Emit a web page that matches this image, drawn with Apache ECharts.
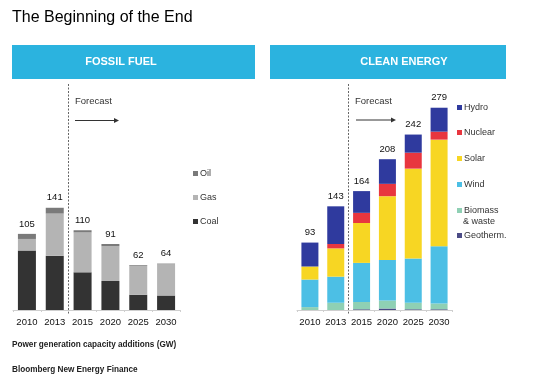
<!DOCTYPE html>
<html><head><meta charset="utf-8">
<script src="https://cdn.jsdelivr.net/npm/echarts@6/dist/echarts.min.js"></script>
<style>html,body{margin:0;padding:0;background:#fff}#c{width:550px;height:389px}</style>
</head><body><div id="c"></div>
<script>
const years = ['2010','2013','2015','2020','2025','2030'];
// Fossil fuel (GW)
const coal = [82, 75, 52, 40, 21, 20];
const gas  = [16, 58, 55, 48, 40, 43];
const oil  = [7, 8, 3, 3, 1, 1];
// Clean energy (GW)
const geotherm = [0, 0, 1, 2, 1, 1];
const biomass  = [4, 10, 10, 11, 9, 8];
const wind     = [38, 36, 54, 56, 61, 79];
const solar    = [18, 39, 55, 88, 124, 147];
const nuclear  = [0, 6, 14, 17, 22, 11];
const hydro    = [33, 52, 30, 34, 25, 33];

const fossilTotals = years.map((_, i) => coal[i] + gas[i] + oil[i]);
const cleanTotals = years.map((_, i) => geotherm[i] + biomass[i] + wind[i] + solar[i] + nuclear[i] + hydro[i]);

const FONT = 'Liberation Sans, Arial, sans-serif';
const chart = echarts.init(document.getElementById('c'));

function xAx(gi) {
  return {
    type: 'category', gridIndex: gi, data: years,
    axisLine: { lineStyle: { color: '#cfcfcf' } },
    axisTick: { show: true, lineStyle: { color: '#cfcfcf' }, length: 2 },
    axisLabel: { interval: 0, color: '#111', fontSize: 9.5, fontFamily: FONT, margin: 7 }
  };
}
function yAx(gi) {
  return { type: 'value', gridIndex: gi, min: 0, max: 300, show: false, splitLine: { show: false } };
}
function bar(name, data, color, gi, width, totals) {
  const s = {
    name, type: 'bar', stack: 's' + gi, data, xAxisIndex: gi, yAxisIndex: gi,
    barWidth: width, itemStyle: { color }, emphasis: { disabled: true }
  };
  if (totals) {
    s.label = {
      show: true, position: 'top', distance: 5, color: '#111', fontSize: 9.5, fontFamily: FONT,
      formatter: p => totals[p.dataIndex]
    };
  }
  return s;
}
function leg(name, top, left, text) {
  return {
    data: [name], top, left, orient: 'vertical', itemWidth: 5, itemHeight: 5, itemGap: 0,
    icon: 'rect', padding: 0,
    textStyle: { color: '#333', fontSize: 9, fontFamily: FONT, padding: [0, 0, 0, -3] },
    formatter: text ? () => text : undefined,
    selectedMode: false
  };
}

const headerColor = '#2bb3df';

chart.setOption({
  animation: false,
  grid: [
    { left: 13, width: 167, top: 92.5, bottom: 79 },
    { left: 297, width: 155, top: 92.5, bottom: 79 }
  ],
  xAxis: [xAx(0), xAx(1)],
  yAxis: [yAx(0), yAx(1)],
  legend: [
    leg('Oil', 169, 193),
    leg('Gas', 193, 193),
    leg('Coal', 217, 193),
    leg('Hydro', 103, 457),
    leg('Nuclear', 128, 457),
    leg('Solar', 154, 457),
    leg('Wind', 180, 457),
    leg('Biomass & waste', 206, 457, 'Biomass'),
    leg('Geotherm.', 231, 457)
  ],
  series: [
    bar('Coal', coal, '#333333', 0, 18),
    bar('Gas', gas, '#b4b4b4', 0, 18),
    bar('Oil', oil, '#7a7a7a', 0, 18, fossilTotals),
    bar('Geotherm.', geotherm, '#4b4b86', 1, 17),
    bar('Biomass & waste', biomass, '#8fd0b4', 1, 17),
    bar('Wind', wind, '#4cbfe5', 1, 17),
    bar('Solar', solar, '#f7d623', 1, 17),
    bar('Nuclear', nuclear, '#e8363f', 1, 17),
    bar('Hydro', hydro, '#2f3a9e', 1, 17, cleanTotals)
  ],
  graphic: [
    { type: 'text', left: 12, top: 10, style: { text: 'The Beginning of the End', fill: '#000', font: '16px ' + FONT } },
    { type: 'rect', shape: { x: 12, y: 45, width: 243, height: 34 }, style: { fill: headerColor } },
    { type: 'rect', shape: { x: 270, y: 45, width: 236, height: 34 }, style: { fill: headerColor } },
    { type: 'text', x: 121, y: 62, style: { text: 'FOSSIL FUEL', fill: '#fff', font: 'bold 11px ' + FONT, align: 'center', verticalAlign: 'middle' } },
    { type: 'text', x: 404, y: 62, style: { text: 'CLEAN ENERGY', fill: '#fff', font: 'bold 11px ' + FONT, align: 'center', verticalAlign: 'middle' } },
    { type: 'line', shape: { x1: 68.5, y1: 84, x2: 68.5, y2: 314 }, style: { stroke: '#666', lineWidth: 1, lineDash: [2, 1.5] } },
    { type: 'line', shape: { x1: 348.5, y1: 84, x2: 348.5, y2: 314 }, style: { stroke: '#666', lineWidth: 1, lineDash: [2, 1.5] } },
    { type: 'text', x: 75, y: 101, style: { text: 'Forecast', fill: '#333', font: '9.5px ' + FONT, verticalAlign: 'middle' } },
    { type: 'text', x: 355, y: 101.5, style: { text: 'Forecast', fill: '#333', font: '9.5px ' + FONT, verticalAlign: 'middle' } },
    { type: 'line', shape: { x1: 75, y1: 120.5, x2: 117, y2: 120.5 }, style: { stroke: '#333', lineWidth: 1 } },
    { type: 'polygon', shape: { points: [[119, 120.5], [114, 118], [114, 123]] }, style: { fill: '#333' } },
    { type: 'line', shape: { x1: 356, y1: 120, x2: 393, y2: 120 }, style: { stroke: '#333', lineWidth: 1 } },
    { type: 'polygon', shape: { points: [[396, 120], [391, 117.5], [391, 122.5]] }, style: { fill: '#333' } },
    { type: 'text', x: 463, y: 222, style: { text: '& waste', fill: '#333', font: '9px ' + FONT, verticalAlign: 'middle' } },
    { type: 'text', left: 12, top: 341, style: { text: 'Power generation capacity additions (GW)', fill: '#222', font: 'bold 8.2px ' + FONT } },
    { type: 'text', left: 12, top: 366, style: { text: 'Bloomberg New Energy Finance', fill: '#222', font: 'bold 8.2px ' + FONT } }
  ]
});
</script></body></html>
